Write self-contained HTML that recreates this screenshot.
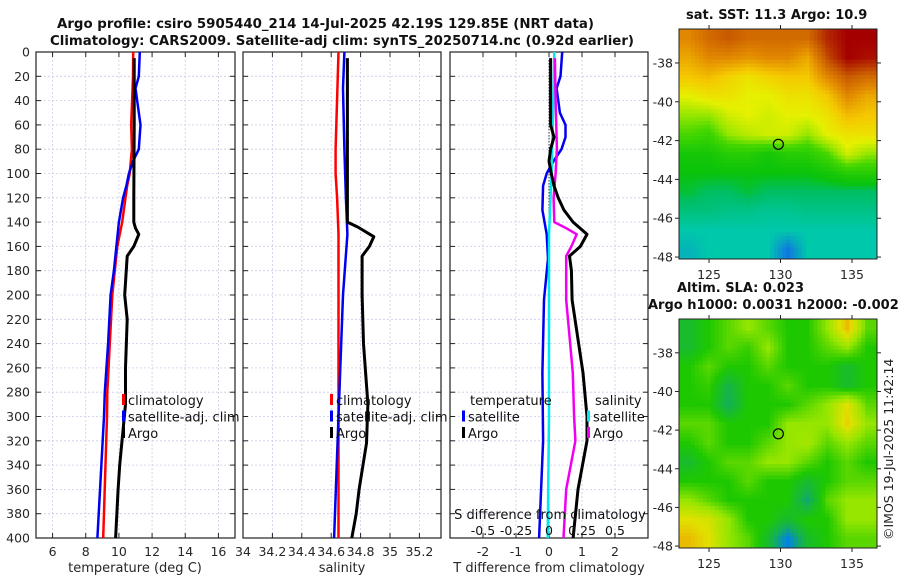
<!DOCTYPE html>
<html><head><meta charset="utf-8">
<style>
html,body{margin:0;padding:0;background:#fff;}
svg{display:block;font-family:"DejaVu Sans","Liberation Sans",sans-serif;}
</style></head>
<body>
<svg id="chart" width="900" height="580" viewBox="0 0 900 580" xmlns="http://www.w3.org/2000/svg">
<g id="root"></g>
</svg>
<script>
// ---------- data ----------
const depthTicks = [0,20,40,60,80,100,120,140,160,180,200,220,240,260,280,300,320,340,360,380,400];
const tempTicks = [6,8,10,12,14,16];
const salTicks = [34,34.2,34.4,34.6,34.8,35,35.2];
const tdiffTicks = [-2,-1,0,1,2];
const sdiffTicks = [-0.5,-0.25,0,0.25,0.5];
const sdiffTickLabels = ["-0.5","-0.25","0","0.25","0.5"];

const climTDepth = [0,20,60,80,100,110,120,140,160,180,200,240,280,300,400];
const climTVal   = [10.86,10.85,10.74,10.78,10.65,10.5,10.4,10.2,9.9,9.75,9.6,9.45,9.3,9.28,9.05];
const satTDepth  = [0,20,30,60,80,90,100,110,120,140,160,180,200,240,280,300,400];
const satTVal    = [11.26,11.2,11.0,11.3,11.2,10.85,10.6,10.45,10.25,10.0,9.85,9.7,9.5,9.35,9.15,9.1,8.7];
const argoTDepth = [5,60,120,140,145,150,160,168,200,220,260,290,340,360,400];
const argoTVal   = [10.92,10.92,10.9,10.9,11.0,11.2,10.9,10.5,10.35,10.5,10.4,10.4,10.05,9.95,9.8];

const climSDepth = [0,80,100,120,150,200,300,400];
const climSVal   = [34.65,34.63,34.63,34.64,34.65,34.65,34.65,34.65];
const satSDepth  = [0,30,80,120,150,200,300,400];
const satSVal    = [34.69,34.68,34.69,34.70,34.71,34.68,34.65,34.62];
const argoSDepth = [5,140,144,152,160,168,200,240,290,322,360,380,400];
const argoSVal   = [34.71,34.71,34.78,34.89,34.86,34.81,34.81,34.82,34.85,34.84,34.79,34.77,34.74];

const satTdDepth = [0,20,30,50,60,70,80,90,100,110,130,150,170,204,264,320,400];
const satTdVal   = [0.4,0.35,0.23,0.33,0.5,0.5,0.38,0.13,-0.07,-0.18,-0.2,-0.07,-0.03,-0.15,-0.2,-0.18,-0.3];
const argoTdDepth = [5,60,70,80,90,100,110,120,130,140,150,160,168,180,204,264,300,320,360,400];
const argoTdVal   = [0.05,0.05,0.15,0.05,0.0,0.07,0.15,0.28,0.45,0.73,1.15,0.95,0.62,0.68,0.7,1.03,1.15,1.15,0.88,0.73];
const satSdDepth = [0,50,100,150,204,300,400];
const satSdVal   = [0.04,0.03,0.02,0.0,0.0,0.0,-0.01];
const argoSdDepth = [5,40,80,100,120,140,145,150,160,168,204,264,300,320,360,400];
const argoSdVal   = [0.045,0.05,0.06,0.05,0.035,0.04,0.13,0.21,0.17,0.13,0.13,0.18,0.19,0.2,0.13,0.11];

const latTicks = [-38,-40,-42,-44,-46,-48];
const lonTicks = [125,130,135];
const argoLon = 129.85, argoLat = -42.19;
const sstGrid = [
 [0.8,0.85,0.88,0.85,0.85,0.85,0.85,0.95,1,1],
 [0.75,0.8,0.8,0.78,0.8,0.8,0.75,0.9,1,0.98],
 [0.7,0.72,0.68,0.65,0.68,0.7,0.7,0.8,0.88,0.85],
 [0.62,0.65,0.65,0.62,0.62,0.65,0.65,0.7,0.8,0.75],
 [0.55,0.55,0.6,0.62,0.6,0.62,0.62,0.65,0.72,0.7],
 [0.5,0.48,0.55,0.58,0.6,0.6,0.55,0.62,0.65,0.65],
 [0.42,0.42,0.45,0.45,0.42,0.45,0.45,0.5,0.6,0.55],
 [0.4,0.4,0.4,0.4,0.4,0.4,0.4,0.42,0.45,0.45],
 [0.38,0.36,0.36,0.38,0.36,0.36,0.36,0.36,0.36,0.36],
 [0.34,0.34,0.33,0.33,0.32,0.32,0.33,0.33,0.33,0.33],
 [0.3,0.3,0.3,0.3,0.3,0.3,0.3,0.3,0.3,0.3],
 [0.28,0.3,0.3,0.3,0.3,0.22,0.3,0.3,0.3,0.3]
];
const slaGrid = [
 [0.45,0.5,0.55,0.6,0.55,0.5,0.5,0.6,0.75,0.55],
 [0.45,0.5,0.55,0.52,0.6,0.5,0.5,0.55,0.6,0.5],
 [0.5,0.55,0.5,0.5,0.55,0.5,0.5,0.5,0.45,0.5],
 [0.5,0.52,0.42,0.5,0.5,0.55,0.5,0.5,0.45,0.5],
 [0.5,0.5,0.4,0.5,0.5,0.5,0.55,0.6,0.7,0.55],
 [0.55,0.55,0.5,0.5,0.5,0.6,0.6,0.6,0.72,0.6],
 [0.5,0.55,0.5,0.5,0.55,0.6,0.62,0.55,0.6,0.55],
 [0.45,0.5,0.55,0.55,0.6,0.6,0.55,0.5,0.55,0.5],
 [0.5,0.5,0.5,0.55,0.5,0.5,0.45,0.5,0.55,0.55],
 [0.6,0.55,0.5,0.5,0.5,0.5,0.38,0.55,0.6,0.6],
 [0.7,0.68,0.6,0.5,0.5,0.45,0.5,0.5,0.6,0.6],
 [0.75,0.7,0.6,0.55,0.45,0.3,0.45,0.5,0.55,0.55]
];

// ---------- helpers ----------
const NS = "http://www.w3.org/2000/svg";
const root = document.getElementById('root');
function mk(tag, attrs, parent, txt){
  const e = document.createElementNS(NS, tag);
  for (const k in attrs) e.setAttribute(k, attrs[k]);
  if (txt !== undefined) e.textContent = txt;
  (parent||root).appendChild(e);
  return e;
}
const Y0 = 52, Y1 = 538;
const yD = d => Y0 + (d/400)*(Y1-Y0);

function panel(name, x0, x1, vmin, vmax, ticks, labels, showDepth){
  const g = mk('g', {});
  
  
  const xs = v => x0 + (v - vmin)/(vmax - vmin)*(x1 - x0);
  depthTicks.forEach(d=>{
    if (d===0||d===400) return;
    const l = mk('line',{x1:x0,x2:x1,y1:yD(d),y2:yD(d),stroke:'#c8cce8','stroke-width':0.8,'stroke-dasharray':'2,2'},g);
    
    
  });
  ticks.forEach(v=>{
    const x = xs(v);
    if (x<=x0+1||x>=x1-1) return;
    const l = mk('line',{x1:x,x2:x,y1:Y0,y2:Y1,stroke:'#c8cce8','stroke-width':0.8,'stroke-dasharray':'2,2'},g);
    
    
  });
  depthTicks.forEach(d=>{
    mk('line',{x1:x0,x2:x0+5,y1:yD(d),y2:yD(d),stroke:'#222'},g);
    mk('line',{x1:x1-5,x2:x1,y1:yD(d),y2:yD(d),stroke:'#222'},g);
    if (showDepth){
      const t = mk('text',{x:x0-6,y:yD(d)+4.5,'text-anchor':'end','font-size':12.5,fill:'#262626'},g,String(d));
      
      
    }
  });
  ticks.forEach((v,i)=>{
    const x = xs(v);
    mk('line',{x1:x,x2:x,y1:Y1,y2:Y1-5,stroke:'#222'},g);
    mk('line',{x1:x,x2:x,y1:Y0,y2:Y0+5,stroke:'#222'},g);
    if (labels){
      const t = mk('text',{x:x,y:556,'text-anchor':'middle','font-size':12.5,fill:'#262626'},g,labels[i]);
      
      
    }
  });
  const r = mk('rect',{x:x0,y:Y0,width:x1-x0,height:Y1-Y0,fill:'none',stroke:'#222','stroke-width':1.2},g);
  
  
  return {g, xs};
}
function series(p, xs, depths, vals, color, w, name){
  const pts = depths.map((d,i)=> xs(vals[i]).toFixed(1)+','+yD(d).toFixed(1)).join(' ');
  const l = mk('polyline',{points:pts,fill:'none',stroke:color,'stroke-width':w,'stroke-linejoin':'round'},p.g);
  
  
}
function legend(p, x, y, items){
  items.forEach((it,i)=>{
    const yy = y + i*16.5;
    if (it.color){
      const m = mk('rect',{x:x,y:yy-11,width:3,height:11,fill:it.color},p.g);
      
      
    }
    const t = mk('text',{x:x+(it.color?6:0),y:yy,'font-size':13,fill:'#111'},p.g,it.label);
    
    
  });
}
function txt(x,y,s,attrs,name){
  const a = Object.assign({x:x,y:y,fill:'#111'},attrs||{});
  const t = mk('text',a,root,s);
  
  
  return t;
}

// ---------- titles ----------
txt(57,28,"Argo profile: csiro 5905440_214 14-Jul-2025 42.19S 129.85E (NRT data)",{'font-size':13,'font-weight':'bold',textLength:537,lengthAdjust:'spacingAndGlyphs'},'main-title');
txt(50,45,"Climatology: CARS2009. Satellite-adj clim: synTS_20250714.nc (0.92d earlier)",{'font-size':13,'font-weight':'bold',textLength:584,lengthAdjust:'spacingAndGlyphs'},'main-subtitle');

// ---------- panel 1 temperature ----------
const p1 = panel('temperature-panel',36,235,5,17,tempTicks,tempTicks.map(String),true);
series(p1,p1.xs,climTDepth,climTVal,'#f00',2.5,'climatology-temperature-line');
series(p1,p1.xs,satTDepth,satTVal,'#0000f0',2.5,'satellite-temperature-line');
series(p1,p1.xs,argoTDepth,argoTVal,'#000',3,'argo-temperature-line');
legend(p1,122,405,[{label:'climatology',color:'#f00'},{label:'satellite-adj. clim',color:'#0000f0'},{label:'Argo',color:'#000'}]);
txt(135,572,"temperature (deg C)",{'font-size':13,'text-anchor':'middle',fill:'#262626'},'x-axis-title-temperature');

// ---------- panel 2 salinity ----------
const p2 = panel('salinity-panel',243,441,34,35.347,salTicks,salTicks.map(String),false);
series(p2,p2.xs,climSDepth,climSVal,'#f00',2.5,'climatology-salinity-line');
series(p2,p2.xs,satSDepth,satSVal,'#0000f0',2.5,'satellite-salinity-line');
series(p2,p2.xs,argoSDepth,argoSVal,'#000',3,'argo-salinity-line');
legend(p2,330,405,[{label:'climatology',color:'#f00'},{label:'satellite-adj. clim',color:'#0000f0'},{label:'Argo',color:'#000'}]);
txt(342,572,"salinity",{'font-size':13,'text-anchor':'middle',fill:'#262626'},'x-axis-title-salinity');

// ---------- panel 3 differences ----------
const p3 = panel('difference-panel',450,648,-3,3,tdiffTicks,tdiffTicks.map(String),false);
const xsS = v => 450 + (v + 0.75)/1.5*198;
const zl = mk('line',{x1:p3.xs(0),x2:p3.xs(0),y1:Y0+8,y2:Y1,stroke:'#333','stroke-width':1,'stroke-dasharray':'1.5,1.5'},p3.g);


series(p3,p3.xs,satTdDepth,satTdVal,'#0000f0',2.5,'satellite-t-diff-line');
series(p3,xsS,satSdDepth,satSdVal,'#00e8f0',2.5,'satellite-s-diff-line');
series(p3,xsS,argoSdDepth,argoSdVal,'#f000f0',2.5,'argo-s-diff-line');
series(p3,p3.xs,argoTdDepth,argoTdVal,'#000',3,'argo-t-diff-line');
legend(p3,470,405,[{label:'temperature'}]);
legend(p3,462,421.5,[{label:'satellite',color:'#0000f0'},{label:'Argo',color:'#000'}]);
legend(p3,595,405,[{label:'salinity'}]);
legend(p3,587,421.5,[{label:'satellite',color:'#00e8f0'},{label:'Argo',color:'#f000f0'}]);
txt(550,519,"S difference from climatology",{'font-size':13,'text-anchor':'middle',fill:'#111'},'s-axis-title');
sdiffTicks.forEach((v,i)=>{
  txt(xsS(v),535,sdiffTickLabels[i],{'font-size':12.5,'text-anchor':'middle',fill:'#111'},'s-tick-label');
});
txt(549,572,"T difference from climatology",{'font-size':13,'text-anchor':'middle',fill:'#262626'},'x-axis-title-t-diff');

// ---------- maps ----------
const MX0=679, MX1=877;
const LON0=122.9, LON1=136.75, LAT0=-36.25, LAT1=-48.1;
const mx = lon => MX0 + (lon-LON0)/(LON1-LON0)*(MX1-MX0);
function lerpStops(stops, v){
  v = Math.max(stops[0][0], Math.min(stops[stops.length-1][0], v));
  for (let i=1;i<stops.length;i++){
    if (v<=stops[i][0]){
      const a=stops[i-1], b=stops[i], t=(v-a[0])/(b[0]-a[0]);
      const c=[0,1,2].map(k=>Math.round(a[1][k]+(b[1][k]-a[1][k])*t));
      return 'rgb('+c.join(',')+')';
    }
  }
}
const sstStops = [[0.2,[20,100,240]],[0.3,[0,200,170]],[0.36,[0,190,100]],[0.4,[10,195,10]],[0.5,[70,215,0]],[0.55,[150,230,0]],[0.62,[230,240,0]],[0.7,[245,200,0]],[0.8,[225,135,0]],[0.88,[200,90,0]],[1,[165,0,0]]];
const slaStops = [[0.3,[0,130,230]],[0.4,[20,175,90]],[0.5,[30,200,0]],[0.6,[150,230,0]],[0.7,[225,225,0]],[0.8,[240,150,0]]];
function sample(grid, fr, fc){
  const R=grid.length, C=grid[0].length;
  const r=Math.max(0,Math.min(R-1,fr-0.5)), c=Math.max(0,Math.min(C-1,fc-0.5));
  const r0=Math.floor(r), c0=Math.floor(c), r1=Math.min(R-1,r0+1), c1=Math.min(C-1,c0+1);
  const tr=r-r0, tc=c-c0;
  return grid[r0][c0]*(1-tr)*(1-tc)+grid[r0][c1]*(1-tr)*tc+grid[r1][c0]*tr*(1-tc)+grid[r1][c1]*tr*tc;
}
function map(name, y0, y1, grid, stops, title1, title2, t1x, t2x){
  const g = mk('g',{});
  
  
  const my = lat => y0 + (lat-LAT0)/(LAT1-LAT0)*(y1-y0);
  const rows = grid.length, cols = grid[0].length, SUB=5;
  const cw=(MX1-MX0)/(cols*SUB), ch=(y1-y0)/(rows*SUB);
  for (let r=0;r<rows*SUB;r++) for (let c=0;c<cols*SUB;c++){
    const v = sample(grid,(r+0.5)/SUB,(c+0.5)/SUB);
    const cell = mk('rect',{x:(MX0+c*cw).toFixed(2),y:(y0+r*ch).toFixed(2),width:(cw+0.5).toFixed(2),height:(ch+0.5).toFixed(2),fill:lerpStops(stops,v)},g);
    
    
  }
  const fr = mk('rect',{x:MX0,y:y0,width:MX1-MX0,height:y1-y0,fill:'none',stroke:'#222','stroke-width':1},g);
  
  
  latTicks.forEach(l=>{
    const y = my(l);
    mk('line',{x1:MX0-4,x2:MX0,y1:y,y2:y,stroke:'#222'},g);
    mk('line',{x1:MX1,x2:MX1+4,y1:y,y2:y,stroke:'#222'},g);
    const t = mk('text',{x:MX0-6,y:y+4.5,'text-anchor':'end','font-size':12.5,fill:'#262626'},g,String(l));
    
    
  });
  lonTicks.forEach(l=>{
    const x = mx(l);
    mk('line',{x1:x,x2:x,y1:y1,y2:y1+4,stroke:'#222'},g);
    mk('line',{x1:x,x2:x,y1:y0-4,y2:y0,stroke:'#222'},g);
    const t = mk('text',{x:x,y:y1+20,'text-anchor':'middle','font-size':12.5,fill:'#262626'},g,String(l));
    
    
  });
  const c = mk('circle',{cx:mx(argoLon),cy:my(argoLat),r:5,fill:'none',stroke:'#000','stroke-width':1.2},g);
  
  
  const ttl = mk('text',{x:t1x,y:y0-10 - (title2?17:0),'font-size':13,'font-weight':'bold',fill:'#111'},g,title1);
  
  
  if (title2){
    const t2 = mk('text',{x:t2x,y:y0-10,'font-size':13,'font-weight':'bold',fill:'#111'},g,title2);
    
    
  }
}
map('sst-map',29,259,sstGrid,sstStops,"sat. SST: 11.3 Argo: 10.9",null,686);
map('sla-map',319,548,slaGrid,slaStops,"Altim. SLA: 0.023","Argo h1000: 0.0031 h2000: -0.002",677,648);

txt(0,0,"©IMOS 19-Jul-2025 11:42:14",{'font-size':12.5,fill:'#222',transform:'translate(893,540) rotate(-90)'},'copyright-stamp');
</script>
</body></html>
